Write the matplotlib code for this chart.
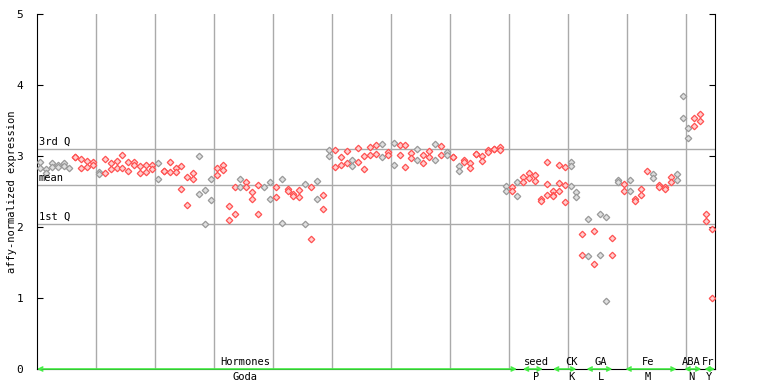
import matplotlib
matplotlib.use('Agg')
import matplotlib.pyplot as plt

# replicate values per sample (left to right)
expr = [
    [2.92, 2.83], [2.81, 2.76], [2.90, 2.84], [2.87, 2.84], [2.90, 2.86], [2.83],
    [2.98, 2.98], [2.96, 2.83], [2.93, 2.84], [2.92, 2.87], [2.77, 2.74], [2.96, 2.76],
    [2.90, 2.81], [2.93, 2.83], [3.02, 2.83], [2.91, 2.79], [2.91, 2.87], [2.86, 2.76],
    [2.88, 2.77], [2.88, 2.81], [2.90, 2.67], [2.79, 2.79], [2.91, 2.77], [2.83, 2.77],
    [2.86, 2.53], [2.70, 2.31], [2.76, 2.67], [3.00, 2.46], [2.52, 2.04], [2.67, 2.38],
    [2.83, 2.73], [2.87, 2.80], [2.30, 2.10], [2.56, 2.19], [2.67, 2.57], [2.64, 2.57],
    [2.50, 2.40], [2.59, 2.19], [2.56], [2.63, 2.39], [2.57, 2.42], [2.67, 2.05],
    [2.54, 2.51], [2.47, 2.44], [2.52, 2.42], [2.60, 2.04], [2.56, 1.83], [2.65, 2.40],
    [2.45, 2.25], [3.08, 3.00], [3.09, 2.84], [2.98, 2.87], [3.07, 2.90], [2.94, 2.86],
    [3.11, 2.92], [3.00, 2.81], [3.12, 3.01], [3.15, 3.03], [3.17, 2.98], [3.05, 3.01],
    [3.18, 2.88], [3.16, 3.02], [3.15, 2.84], [3.04, 2.97], [3.10, 2.95], [3.01, 2.90],
    [3.07, 2.98], [3.17, 2.94], [3.14, 3.02], [3.05, 3.01], [2.98, 2.98], [2.86, 2.79],
    [2.95, 2.92], [2.90, 2.83], [3.03, 3.03], [3.00, 2.93], [3.08, 3.05], [3.10, 3.10],
    [3.12, 3.08], [2.58, 2.51], [2.57, 2.51], [2.63, 2.43], [2.70, 2.63], [2.76, 2.69],
    [2.73, 2.65], [2.39, 2.36], [2.92, 2.60, 2.45], [2.51, 2.45, 2.43], [2.87, 2.62, 2.51],
    [2.85, 2.59, 2.35], [2.92, 2.86, 2.58], [2.50, 2.42], [1.90, 1.61], [2.11, 1.59],
    [1.94, 1.48], [2.19, 1.61], [2.14, 0.96], [1.84, 1.61], [2.66, 2.64], [2.61, 2.51],
    [2.66, 2.51], [2.39, 2.36], [2.54, 2.45], [2.79], [2.74, 2.69], [2.59, 2.56],
    [2.56, 2.53], [2.70, 2.64], [2.74, 2.66], [3.85, 3.54], [3.39, 3.26], [3.53, 3.42],
    [3.59, 3.50], [2.19, 2.09], [1.97, 1.00],
]
# g = control (grey), r = treated (red)
kind = ("ggggggrrrrgrrrrrrrrrgrrrrrrgggrrrrgrrrggrgrrrgrgrgrrrgrrrrgrgrrrgrrgrgrgrr"
        "rrrrrgrgrrrrrrrrggrgrggrgrgrrrgrrrgggrrrr")

q3, mean, q1 = 3.10, 2.59, 2.04

groups = ['Hormones', 'seed', 'CK', 'GA', 'Fe', 'ABA', 'Fr']
subgroups = ['Goda', 'P', 'K', 'L', 'M', 'N', 'Y']
group_start = [0, 82.4, 87.5, 93.2, 99.8, 109.8, 113.2]
group_end = [81.4, 85.8, 91.5, 97.6, 108.5, 112.7, 115]
label_pos = [35.3, 84.7, 90.7, 95.6, 103.6, 111.0, 113.9]

RED = '#ff5050'
GREY = '#999999'
GREEN = '#44ee44'
mono = 'DejaVu Sans Mono'

fig = plt.figure(figsize=(7.68, 3.84), dpi=100)
ax = fig.add_axes([37 / 768, 15 / 384, 678 / 768, 355 / 384])

for i, vals in enumerate(expr):
    c = RED if kind[i] == 'r' else GREY
    fc = '#ffd0d0' if kind[i] == 'r' else '#e0e0e0'
    ax.plot([i + 0.5] * len(vals), vals, linestyle='none', marker='D', markersize=3.3,
            mfc=fc, mec=c, mew=0.9, zorder=3)

for v in [q3, mean, q1]:
    ax.axhline(v, color='#aaaaaa', lw=1, zorder=1)
for x in range(10, 115, 10):
    ax.axvline(x, color='#aaaaaa', lw=1, zorder=1)

ax.text(0.3, q3 + 0.03, '3rd Q', fontsize=7.5, family=mono, va='bottom')
ax.text(0.3, mean + 0.03, 'mean', fontsize=7.5, family=mono, va='bottom')
ax.text(0.3, q1 + 0.03, '1st Q', fontsize=7.5, family=mono, va='bottom')

for g, sg, s, e, p in zip(groups, subgroups, group_start, group_end, label_pos):
    ax.annotate('', xy=(s, 0), xytext=(e, 0), annotation_clip=False,
                arrowprops=dict(arrowstyle='<->', color=GREEN, lw=1.2,
                                shrinkA=0, shrinkB=0, mutation_scale=7))
    ax.text(p, 0.03, g, fontsize=7.5, family=mono, ha='center', va='bottom')
    ax.text(p, -0.04, sg, fontsize=7.5, family=mono, ha='center', va='top', clip_on=False)

ax.set_xlim(0, 115)
ax.set_ylim(0, 5)
ax.set_xticks([])
ax.set_yticks(range(6))
ax.tick_params(axis='y', direction='in', length=4, right=True, labelsize=8, pad=10)
for lab in ax.get_yticklabels():
    lab.set_family(mono)
ax.spines['top'].set_visible(False)
ax.set_ylabel('affy-normalized expression', family=mono, fontsize=7.5)
ax.yaxis.set_label_coords(-0.03, 0.5)

fig.savefig('out.png', dpi=100)
